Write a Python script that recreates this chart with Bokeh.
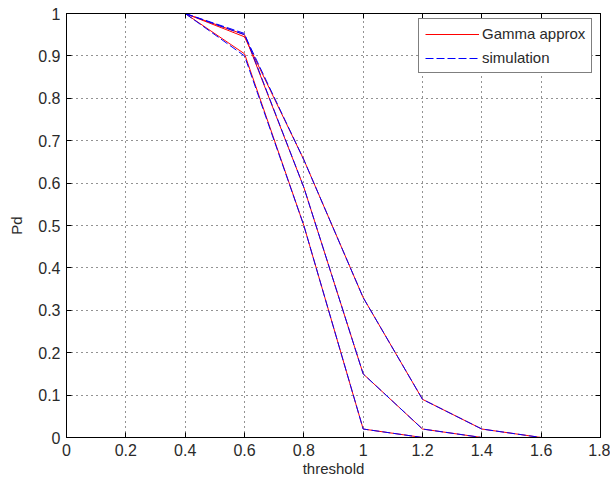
from bokeh.plotting import figure
from bokeh.models import (Range1d, FixedTicker, LinearAxis, Legend, LegendItem,
                          CustomJSTickFormatter)
from bokeh.embed import file_html
from bokeh.resources import INLINE

threshold = [0.4, 0.6, 0.8, 1.0, 1.2, 1.4, 1.6]
gamma_1 = [1.0, 0.905, 0.50, 0.02, 0.0, 0.0, 0.0]
gamma_2 = [1.0, 0.95, 0.59, 0.15, 0.02, 0.0, 0.0]
gamma_3 = [1.0, 0.945, 0.655, 0.33, 0.09, 0.02, 0.0]
sim_1 = [1.0, 0.90, 0.50, 0.02, 0.0, 0.0, 0.0]
sim_2 = [1.0, 0.953, 0.59, 0.15, 0.02, 0.0, 0.0]
sim_3 = [1.0, 0.95, 0.655, 0.33, 0.09, 0.02, 0.0]

x_ticks = [0, 0.2, 0.4, 0.6, 0.8, 1.0, 1.2, 1.4, 1.6, 1.8]
x_tick_labels = ["0", "0.2", "0.4", "0.6", "0.8", "1", "1.2", "1.4", "1.6", "1.8"]
y_ticks = [0, 0.1, 0.2, 0.3, 0.4, 0.5, 0.6, 0.7, 0.8, 0.9, 1.0]
y_tick_labels = ["0", "0.1", "0.2", "0.3", "0.4", "0.5", "0.6", "0.7", "0.8", "0.9", "1"]

FONT = "Liberation Sans"
TICK_FS = "16px"
LAB_FS = "15px"
TXT = "#2a2a2a"

p = figure(frame_width=534, frame_height=424,
           x_range=Range1d(0, 1.8), y_range=Range1d(0, 1),
           output_backend="svg", toolbar_location=None,
           min_border_left=66, min_border_right=10,
           min_border_top=13, min_border_bottom=47,
           background_fill_color="white", border_fill_color="white")

p.outline_line_color = "black"
p.outline_line_width = 1

for ax, ticks, labels in ((p.xaxis[0], x_ticks, x_tick_labels),
                          (p.yaxis[0], y_ticks, y_tick_labels)):
    ax.ticker = FixedTicker(ticks=ticks)
    ax.major_label_overrides = {t: l for t, l in zip(ticks, labels)}
    ax.major_tick_in = 5
    ax.major_tick_out = 0
    ax.minor_tick_line_color = None
    ax.axis_line_color = "black"
    ax.major_tick_line_color = "black"
    ax.major_label_text_font = FONT
    ax.major_label_text_font_size = TICK_FS
    ax.major_label_text_color = TXT
    ax.axis_label_text_font = FONT
    ax.axis_label_text_font_size = LAB_FS
    ax.axis_label_text_font_style = "normal"
    ax.axis_label_text_color = TXT

p.xaxis.axis_label = "threshold"
p.yaxis.axis_label = "Pd"
p.xaxis.major_label_standoff = 6
p.xaxis.axis_label_standoff = 1
p.yaxis.major_label_standoff = 6
p.yaxis.axis_label_standoff = 10

blank = CustomJSTickFormatter(code="return '';")
top = LinearAxis(ticker=FixedTicker(ticks=x_ticks), major_tick_in=5, major_tick_out=0,
                 minor_tick_line_color=None, formatter=blank, major_label_standoff=0)
right = LinearAxis(ticker=FixedTicker(ticks=y_ticks), major_tick_in=5, major_tick_out=0,
                   minor_tick_line_color=None, formatter=blank, major_label_standoff=0)
p.add_layout(top, "above")
p.add_layout(right, "right")

for g in (p.xgrid[0], p.ygrid[0]):
    g.grid_line_color = "black"
    g.grid_line_dash = "1 4"
    g.grid_line_width = 1
    g.grid_line_alpha = 0.85
p.xgrid[0].ticker = FixedTicker(ticks=x_ticks[1:-1])
p.ygrid[0].ticker = FixedTicker(ticks=y_ticks[1:-1])

RED = "#ff0000"
BLUE = "#0000ff"

r_g = []
for ys in (gamma_1, gamma_2, gamma_3):
    r_g.append(p.line(threshold, ys, line_color=RED, line_width=1))
r_s = []
for ys in (sim_1, sim_2, sim_3):
    r_s.append(p.line(threshold, ys, line_color=BLUE, line_width=1, line_dash="8 3"))

legend = Legend(items=[LegendItem(label="Gamma approx", renderers=[r_g[0]]),
                       LegendItem(label="simulation", renderers=[r_s[0]])],
                location=(352, 364))
legend.label_text_font = FONT
legend.label_text_font_size = LAB_FS
legend.label_text_color = TXT
legend.border_line_color = "black"
legend.border_line_width = 1
legend.background_fill_color = "white"
legend.background_fill_alpha = 1
legend.glyph_width = 54
legend.glyph_height = 16
legend.label_standoff = 3
legend.label_height = 16
legend.spacing = 7
legend.padding = 6
legend.margin = 0
p.add_layout(legend)

open("out.html", "w").write(file_html(p, INLINE))
